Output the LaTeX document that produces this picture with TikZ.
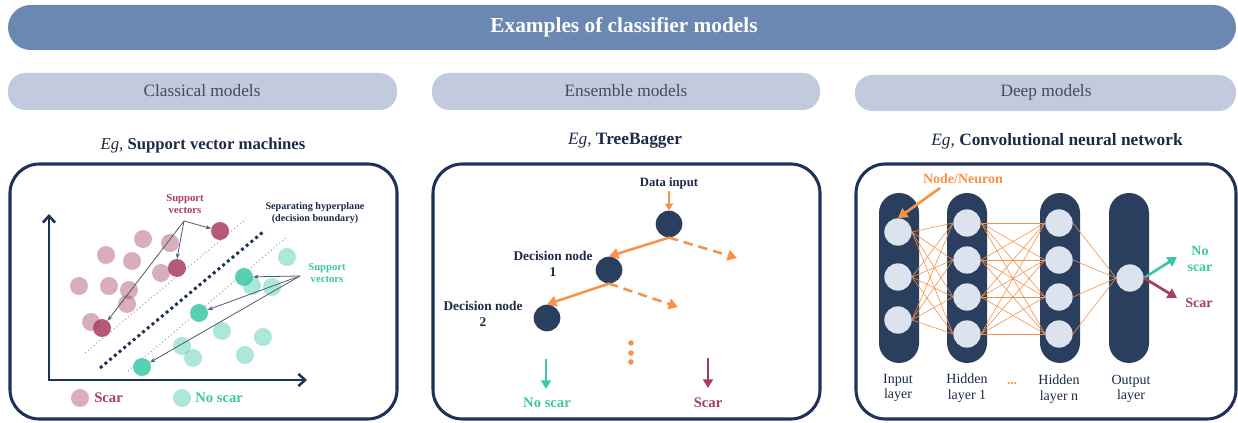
\documentclass[tikz,border=0pt]{standalone}
\usepackage{fontspec}
\setmainfont{Liberation Serif}
\usetikzlibrary{arrows.meta,calc}
\definecolor{banner}{HTML}{6A88B2}
\definecolor{subh}{HTML}{C1CBDD}
\definecolor{subtxt}{HTML}{464B58}
\definecolor{navy}{HTML}{1E3157}
\definecolor{nodenavy}{HTML}{2A3E5E}
\definecolor{lightnode}{HTML}{DCE3EF}
\definecolor{orng}{HTML}{F7924A}
\definecolor{tealc}{HTML}{3DC7A6}
\definecolor{crim}{HTML}{A83C62}
\definecolor{txtnavy}{HTML}{1C2A48}
\definecolor{arrgray}{HTML}{4A5A78}
\tikzset{
  panel/.style={draw=navy, line width=2.3pt, fill=white, rounded corners=22pt},
  subbox/.style={fill=subh, rounded corners=13pt},
  lbl/.style={font=\fontsize{8.5}{9.5}\selectfont\bfseries, text=txtnavy, align=center, inner sep=0pt},
  spk/.style={circle, minimum size=13.5pt, inner sep=0pt, fill=crim, fill opacity=0.42, draw=none},
  spkd/.style={circle, minimum size=13.5pt, inner sep=0pt, fill=crim, fill opacity=0.85, draw=none},
  stl/.style={circle, minimum size=13.5pt, inner sep=0pt, fill=tealc, fill opacity=0.42, draw=none},
  stld/.style={circle, minimum size=13.5pt, inner sep=0pt, fill=tealc, fill opacity=0.85, draw=none},
  svarr/.style={draw=arrgray, line width=0.6pt, -{Stealth[length=4pt,width=3pt]}},
  tnode/.style={circle, minimum size=20pt, inner sep=0pt, fill=nodenavy},
  oarr/.style={draw=orng, line width=1.9pt, -{Triangle[length=7pt,width=8pt]}},
  oarrd/.style={oarr, dash pattern=on 7pt off 4.5pt},
  neur/.style={circle, minimum size=20.5pt, inner sep=0pt, fill=lightnode},
  edge/.style={draw=orng, line width=0.45pt},
  col/.style={fill=nodenavy, rounded corners=15pt},
  nnlbl/.style={font=\fontsize{10.5}{11.5}\selectfont, text=txtnavy, align=center, inner sep=0pt},
}
\begin{document}
\begin{tikzpicture}[x=0.75pt,y=-0.75pt]
\useasboundingbox (0,0) rectangle (1238,423);
% banner
\fill[banner, rounded corners=17pt] (8,5) rectangle (1236,50);
\node[font=\fontsize{16}{18}\selectfont\bfseries, text=white] (title) at (624,27) {Examples of classifier models};
% sub headers
\fill[subbox] (8,73) rectangle (397,110);
\fill[subbox] (432,73) rectangle (820,110);
\fill[subbox] (855,75) rectangle (1236,111);
\node[font=\fontsize{13}{15}\selectfont, text=subtxt] (h1) at (202,91) {Classical models};
\node[font=\fontsize{13}{15}\selectfont, text=subtxt] (h2) at (626,91) {Ensemble models};
\node[font=\fontsize{13}{15}\selectfont, text=subtxt] (h3) at (1046,92) {Deep models};
% examples
\node[font=\fontsize{12.5}{14}\selectfont, text=txtnavy] (e1) at (203,145) {\textit{Eg,} \textbf{Support vector machines}};
\node[font=\fontsize{13}{14}\selectfont, text=txtnavy] (e2) at (625,141) {\textit{Eg,} \textbf{TreeBagger}};
\node[font=\fontsize{13}{14}\selectfont, text=txtnavy] (e3) at (1057,141) {\textit{Eg,} \textbf{Convolutional neural network}};
% panels
\draw[panel] (10,164) rectangle (397,419);
\draw[panel] (433,164) rectangle (820,419);
\draw[panel] (856,164) rectangle (1236,419);

%%%%%%%% SVM
\coordinate (ytop) at (49,214);
\coordinate (org) at (49,380);
\coordinate (xend) at (307,380);
\draw[navy, line width=1.9pt, {Straight Barb[length=5pt,width=9pt]}-{Straight Barb[length=5pt,width=9pt]}] (ytop) -- (org) -- (xend);
% margins
\coordinate (g1a) at (85,353); \coordinate (g1b) at (246,219);
\coordinate (g2a) at (128,371); \coordinate (g2b) at (287,237);
\coordinate (hpa) at (100,368); \coordinate (hpb) at (263,232);
\draw[gray!70, line width=0.8pt, dotted] (g1a) -- (g1b);
\draw[gray!70, line width=0.8pt, dotted] (g2a) -- (g2b);
\draw[navy, line width=2.2pt, dash pattern=on 2.2pt off 2.4pt] (hpa) -- (hpb);
% points
\foreach \n/\x/\y in {p1/143/239, p2/170/243, p3/106/255, p4/132/261, p5/161/273, p6/79/286, p7/109/286, p8/129/290, p9/127/304, p10/91/322}
  \node[spk] (\n) at (\x,\y) {};
\foreach \n/\x/\y in {t1/287/257, t2/252/286, t3/272/287, t4/222/331, t5/182/346, t6/263/337, t7/193/358, t8/245/355}
  \node[stl] (\n) at (\x,\y) {};
\node[spkd] (sp1) at (220,231) {};
\node[spkd] (sp2) at (177,268) {};
\node[spkd] (sp3) at (102,328) {};
\node[stld] (st1) at (244,277) {};
\node[stld] (st2) at (199,313) {};
\node[stld] (st3) at (142,367) {};
% labels
\node[lbl, text=crim, font=\fontsize{8}{9}\selectfont\bfseries] (psv) at (185,204) {Support\\vectors};
\node[lbl, font=\fontsize{7.6}{9.5}\selectfont\bfseries] (hyp) at (315,213) {Separating hyperplane\\(decision boundary)};
\node[lbl, text=tealc, font=\fontsize{8}{9}\selectfont\bfseries] (tsv) at (327,273) {Support\\vectors};
\coordinate (pa) at (184,221);
\coordinate (ta) at (300,276);
\draw[svarr] (pa) -- (sp1);
\draw[svarr] (pa) -- (sp2.north);
\draw[svarr] (pa) -- (sp3);
\draw[svarr] (ta) -- (st1);
\draw[svarr] (ta) -- (st2);
\draw[svarr] (ta) -- (st3);
% legend
\node[spk] (lg1) at (80,398) {};
\node[font=\fontsize{11}{12}\selectfont\bfseries, text=crim, anchor=west, inner sep=0pt] (lgt1) at (94,398) {Scar};
\node[stl] (lg2) at (182,398) {};
\node[font=\fontsize{11}{12}\selectfont\bfseries, text=tealc, anchor=west, inner sep=0pt] (lgt2) at (195,398) {No scar};

%%%%%%%% Tree
\node[lbl, font=\fontsize{9.5}{11}\selectfont\bfseries] (din) at (669,183) {Data input};
\node[tnode] (r) at (669,224) {};
\node[tnode] (d1) at (609,270) {};
\node[tnode] (d2) at (547,318) {};
\node[lbl, font=\fontsize{10}{12}\selectfont\bfseries] (dl1) at (553,264) {Decision node\\1};
\node[lbl, font=\fontsize{10}{12}\selectfont\bfseries] (dl2) at (483,314) {Decision node\\2};
\coordinate (dina) at (669,191);
\draw[oarr, line width=1.4pt, -{Triangle[length=5pt,width=6pt]}] (dina) -- (r.north);
\coordinate (rr) at (737,258);
\coordinate (d1r) at (678,307);
\draw[oarr] (r.south) -- (d1.north);
\draw[oarrd] (r.south) -- (rr);
\draw[oarr] (d1.south) -- (d2.north);
\draw[oarrd] (d1.south) -- (d1r);
\foreach \y in {343,353,362} \fill[orng] (631,\y) circle (2.1pt);
\coordinate (nsa) at (546,359); \coordinate (nsb) at (546,389);
\coordinate (sca) at (708,358); \coordinate (scb) at (708,388);
\draw[draw=tealc, line width=1.7pt, -{Triangle[length=6.5pt,width=7.5pt]}] (nsa) -- (nsb);
\draw[draw=crim, line width=1.7pt, -{Triangle[length=6.5pt,width=7.5pt]}] (sca) -- (scb);
\node[font=\fontsize{11}{12}\selectfont\bfseries, text=tealc] (nst) at (547,403) {No scar};
\node[font=\fontsize{11}{12}\selectfont\bfseries, text=crim] (sct) at (708,403) {Scar};

%%%%%%%% NN
\fill[col] (879,193) rectangle (919,363);
\fill[col] (947,193) rectangle (987,363);
\fill[col] (1040,193) rectangle (1080,363);
\fill[col] (1109,193) rectangle (1149,363);
\node[neur] (i1) at (898,232) {};
\node[neur] (i2) at (898,277) {};
\node[neur] (i3) at (898,320) {};
\foreach \k/\y in {1/223,2/260,3/297,4/334} {
  \node[neur] (h\k) at (967,\y) {};
  \node[neur] (n\k) at (1059,\y) {};
}
\node[neur] (o) at (1130,278) {};
\foreach \a in {1,2,3} \foreach \b in {1,2,3,4} \draw[edge] (i\a.east) -- (h\b.west);
\foreach \a in {1,2,3,4} \foreach \b in {1,2,3,4} \draw[edge] (h\a.east) -- (n\b.west);
\foreach \a in {1,2,3,4} \draw[edge] (n\a.east) -- (o.west);
\node[lbl, text=orng, font=\fontsize{10.5}{11}\selectfont\bfseries] (nn) at (963,179) {Node/Neuron};
\coordinate (nna) at (940,188);
\draw[oarr, line width=2pt] (nna) -- (i1.north);
\coordinate (oa) at (1177,257);
\coordinate (ob) at (1177,298);
\draw[draw=tealc, line width=2pt, -{Triangle[length=7pt,width=8pt]}] (o.east) -- (oa);
\draw[draw=crim, line width=2pt, -{Triangle[length=7pt,width=8pt]}] (o.east) -- (ob);
\node[font=\fontsize{10.5}{12}\selectfont\bfseries, text=tealc, align=center, inner sep=0pt] (nso) at (1200,259) {No\\scar};
\node[font=\fontsize{10.5}{12}\selectfont\bfseries, text=crim, inner sep=0pt] (sco) at (1199,303) {Scar};
\node[nnlbl] (l1) at (898,388) {Input\\layer};
\node[nnlbl] (l2) at (967,388) {Hidden\\layer 1};
\node[font=\fontsize{10}{11}\selectfont\bfseries, text=orng] (ldots) at (1012,384) {...};
\node[nnlbl] (l3) at (1059,389) {Hidden\\layer n};
\node[nnlbl] (l4) at (1131,389) {Output\\layer};
\end{tikzpicture}
\end{document}
